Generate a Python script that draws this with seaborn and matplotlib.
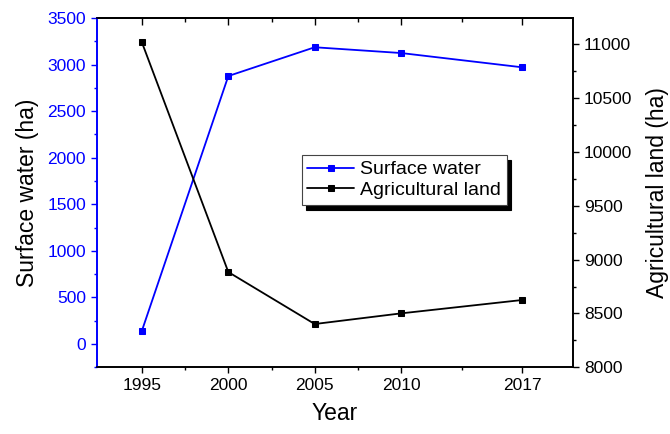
import numpy as np
import pandas as pd
import seaborn as sns
import matplotlib.pyplot as plt
from matplotlib.ticker import MultipleLocator, FixedLocator

# data
years = [1995, 2000, 2005, 2010, 2017]
surface_water = [143, 2877, 3186, 3124, 2971]
agri_land = [11018, 8885, 8402, 8501, 8625]
minor_years = [1997.5, 2002.5, 2007.5, 2013.5]

df = pd.DataFrame({'Year': years, 'Surface water': surface_water,
                   'Agricultural land': agri_land})

sns.set_style('ticks')
plt.rcParams['font.family'] = ['Liberation Sans', 'DejaVu Sans']
plt.rcParams['text.color'] = 'black'
plt.rcParams['axes.labelcolor'] = 'black'
plt.rcParams['axes.edgecolor'] = 'black'

blue = '#0000FF'
fig = plt.figure(figsize=(6.7, 4.34), dpi=100)
ax = fig.add_axes([0.1448, 0.1537, 0.7104, 0.8048])
ax2 = ax.twinx()

sns.lineplot(data=df, x='Year', y='Surface water', ax=ax, color=blue,
             marker='s', markersize=5, markeredgecolor=blue, linewidth=1.3,
             label='Surface water', legend=False)
sns.lineplot(data=df, x='Year', y='Agricultural land', ax=ax2, color='black',
             marker='s', markersize=5, markeredgecolor='black', linewidth=1.3,
             label='Agricultural land', legend=False)

ax.set_xlim(1992.4, 2019.95)
ax.set_ylim(-250, 3500)
ax2.set_ylim(8000, 11245)

ax.xaxis.set_major_locator(FixedLocator(years))
ax.xaxis.set_minor_locator(FixedLocator(minor_years))
ax.yaxis.set_major_locator(MultipleLocator(500))
ax.yaxis.set_minor_locator(MultipleLocator(250))
ax.set_yticks([0, 500, 1000, 1500, 2000, 2500, 3000, 3500])
ax2.yaxis.set_major_locator(MultipleLocator(500))
ax2.yaxis.set_minor_locator(MultipleLocator(250))

ax.tick_params(axis='x', which='major', length=4.5, width=1, labelsize=12.5, colors='black')
ax.tick_params(axis='x', which='minor', length=2.5, width=1, colors='black')
ax.tick_params(axis='y', which='major', length=4.5, width=1, labelsize=12.5, colors=blue)
ax.tick_params(axis='y', which='minor', length=2.5, width=1, colors=blue)
ax2.tick_params(axis='y', which='major', length=4.5, width=1, labelsize=12.5, colors='black')
ax2.tick_params(axis='y', which='minor', length=2.5, width=1, colors='black')

# inward ticks along the top
top = ax.secondary_xaxis('top')
top.xaxis.set_major_locator(FixedLocator(years))
top.xaxis.set_minor_locator(FixedLocator(minor_years))
top.tick_params(which='major', direction='in', length=5, width=1, labeltop=False, colors='black')
top.tick_params(which='minor', direction='in', length=3, width=1, colors='black')
top.spines['top'].set_linewidth(1.2)
top.spines['top'].set_color('black')

for s in ['left', 'right', 'bottom', 'top']:
    ax.spines[s].set_visible(True)
    ax2.spines[s].set_visible(True)
    ax.spines[s].set_linewidth(1.2)
    ax2.spines[s].set_linewidth(1.2)
    ax.spines[s].set_color('black')
    ax2.spines[s].set_color('black')
ax.spines['left'].set_color(blue)
ax2.spines['left'].set_color(blue)

ax.set_xlabel('Year', fontsize=16.5, labelpad=6)
ax.set_ylabel('Surface water (ha)', fontsize=16.5, labelpad=6)
ax2.set_ylabel('Agricultural land (ha)', fontsize=16.5, labelpad=10)

h1, l1 = ax.get_legend_handles_labels()
h2, l2 = ax2.get_legend_handles_labels()
leg = ax2.legend(h1 + h2, l1 + l2, loc='upper left', bbox_to_anchor=(0.450, 0.643),
                 bbox_transform=fig.transFigure, fontsize=14, fancybox=False,
                 frameon=True, framealpha=1, edgecolor='#444444', handlelength=2.4,
                 handletextpad=0.3, borderpad=0.3, labelspacing=0.15, borderaxespad=0,
                 markerscale=0.8,
                 shadow={'color': 'black', 'alpha': 1, 'ox': 3.5, 'oy': -3.5})
leg.get_frame().set_linewidth(0.8)
for t in leg.get_texts():
    t.set_color('black')

fig.savefig('out.png', dpi=100)
